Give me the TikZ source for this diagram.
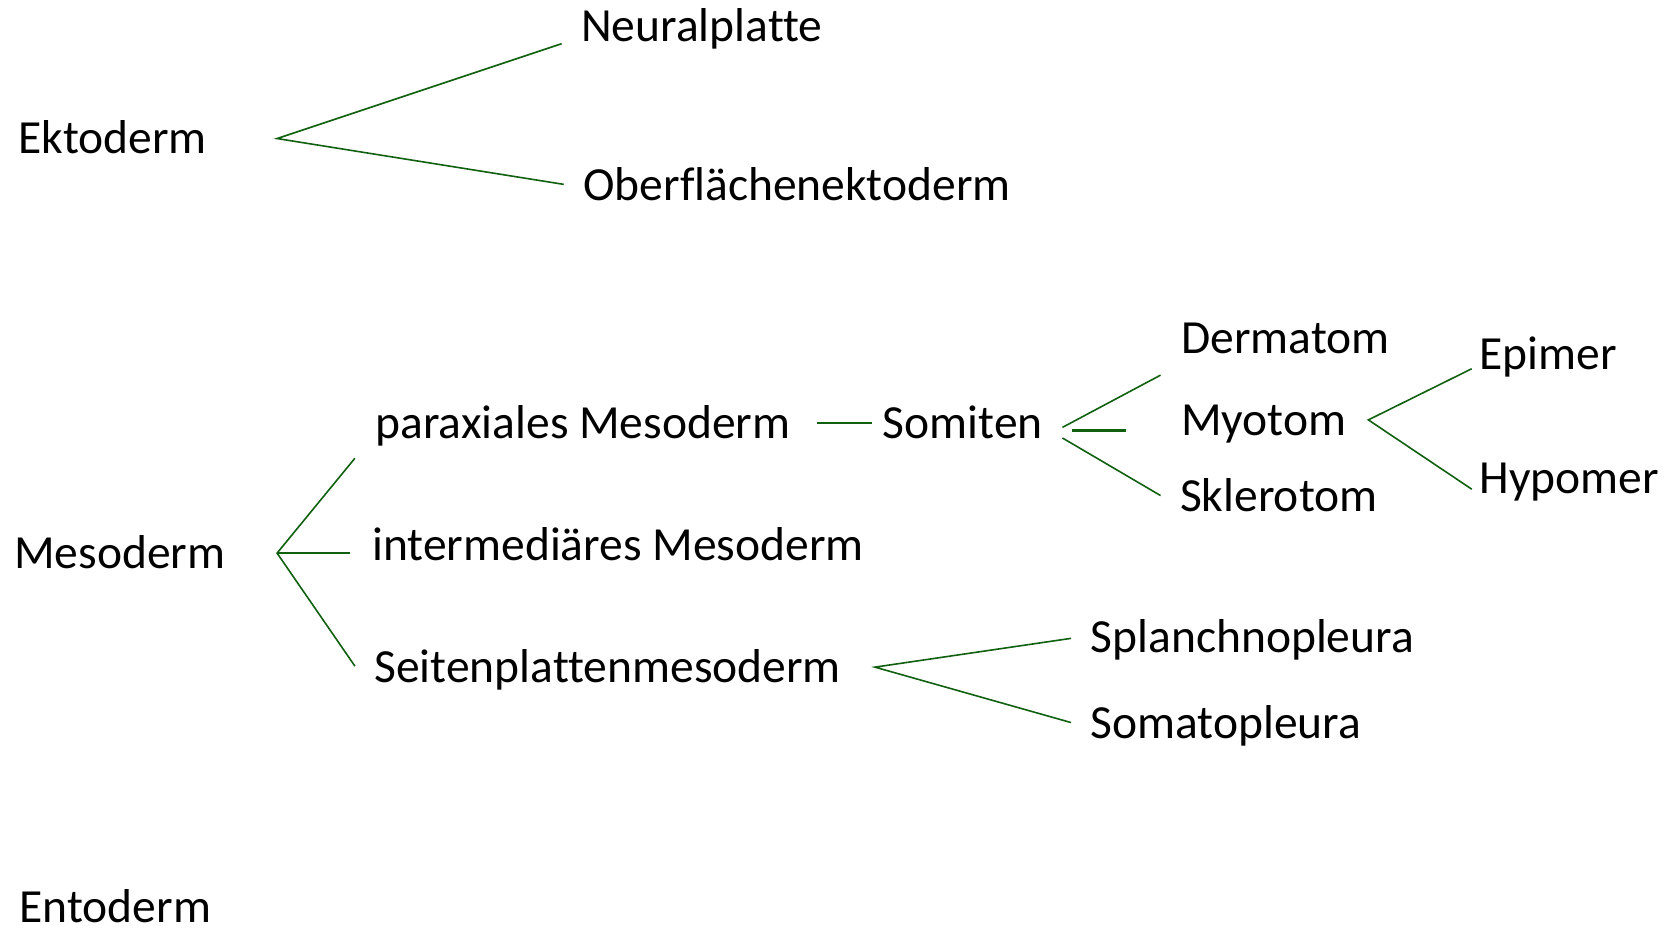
\documentclass[tikz,border=0pt]{standalone}
\usepackage{fontspec}
\setmainfont{Carlito}[Ligatures={NoCommon}]
\definecolor{branchgreen}{RGB}{16,96,16}
\tikzset{
  term/.style={anchor=base west, inner sep=0pt, font=\fontsize{22.3}{26}\selectfont},
  branch/.style={draw=branchgreen, line width=0.75pt},
  branchthick/.style={draw=branchgreen, line width=1.1pt}
}
\begin{document}
\begin{tikzpicture}[x=0.5pt,y=-0.5pt]
    \useasboundingbox (0,0) rectangle (1568,875);

    % Label the layers
    \node[term] (ekto) at (17,144) {Ektoderm};
    \node[term] (neural) at (545,39) {Neuralplatte};
    \node[term] (oberfl) at (547,188) {Oberflächenektoderm};

    \node[term] (meso) at (13,533) {Mesoderm};
    \node[term] (parax) at (352,411) {paraxiales Mesoderm};
    \node[term] (interm) at (349,526) {intermediäres Mesoderm};
    \node[term] (seiten) at (351,640) {Seitenplattenmesoderm};

    \node[term] (somiten) at (828,411) {Somiten};
    \node[term] (dermatom) at (1108,332) {Dermatom};
    \node[term] (myotom) at (1108,409) {Myotom};
    \node[term] (sklerotom) at (1107,480) {Sklerotom};
    \node[term] (epimer) at (1388,347) {Epimer};
    \node[term] (hypomer) at (1388,463) {Hypomer};

    \node[term] (splanch) at (1023,612) {Splanchnopleura};
    \node[term] (somato) at (1023,693) {Somatopleura};

    \node[term] (ento) at (18,866) {Entoderm};

    % Define the branch points
    \coordinate (ektoB) at (260,130);
    \coordinate (ektoN) at (527,41);
    \coordinate (ektoO) at (529,173);

    \coordinate (mesoB) at (260,519);
    \coordinate (mesoP) at (333,430);
    \coordinate (mesoI) at (328,519);
    \coordinate (mesoS) at (333,625);

    \coordinate (paraxA) at (767,397);
    \coordinate (paraxB) at (818,397);

    \coordinate (somB) at (997,401);
    \coordinate (somD) at (1089,352);
    \coordinate (somMa) at (1006,404);
    \coordinate (somMb) at (1057,404);
    \coordinate (somS1) at (997,411);
    \coordinate (somS) at (1089,465);

    \coordinate (myoB) at (1284,394);
    \coordinate (myoE) at (1381,346);
    \coordinate (myoH) at (1381,459);

    \coordinate (seitB) at (821,626);
    \coordinate (seitSp) at (1005,599);
    \coordinate (seitSo) at (1005,678);

    % Draw the branches
    \draw[branch] (ektoN) -- (ektoB) -- (ektoO);

    \draw[branch] (mesoP) -- (mesoB) -- (mesoS);
    \draw[branch] (mesoB) -- (mesoI);

    \draw[branchthick] (paraxA) -- (paraxB);

    \draw[branch] (somD) -- (somB);
    \draw[branchthick] (somMa) -- (somMb);
    \draw[branch] (somS1) -- (somS);

    \draw[branch] (myoE) -- (myoB) -- (myoH);

    \draw[branch] (seitSp) -- (seitB) -- (seitSo);

\end{tikzpicture}
\end{document}
